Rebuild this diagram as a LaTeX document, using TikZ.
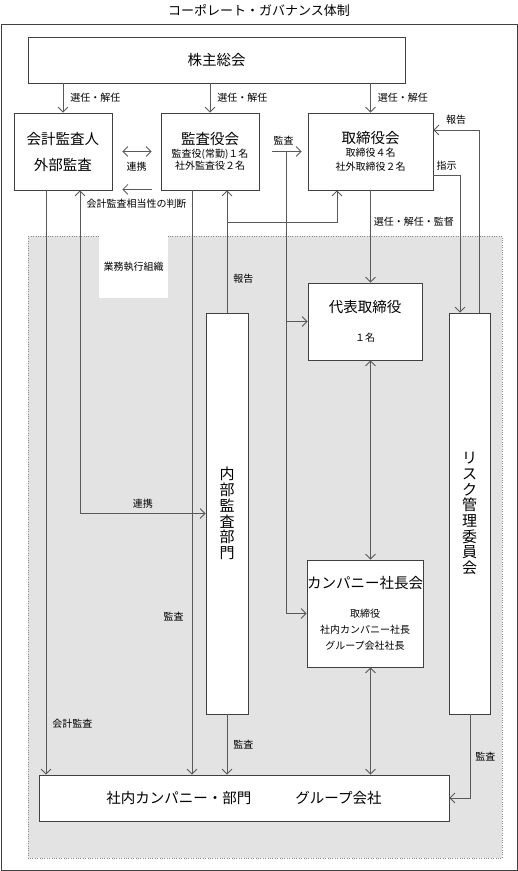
\documentclass[tikz,border=0pt]{standalone}
\usepackage{fontspec}
\setmainfont{Noto Sans CJK JP}
\usetikzlibrary{positioning,arrows.meta}

\newcommand{\largetxt}{\fontsize{14.5}{16}\selectfont}
\newcommand{\smalltxt}{\fontsize{10}{12}\selectfont}
\newcommand{\verttxt}{\fontsize{15}{15.7}\selectfont}

\tikzset{
  box/.style={draw=black!75,fill=white,line width=0.8pt,inner sep=0pt,align=center},
  conn/.style={draw=black!65,line width=0.8pt},
  arr/.style={conn,-{Straight Barb[length=5pt,width=10pt]}},
  darr/.style={conn,{Straight Barb[length=5pt,width=10pt]}-{Straight Barb[length=5pt,width=10pt]}},
  lbl/.style={font=\smalltxt,inner sep=0pt},
}

\begin{document}
\begin{tikzpicture}[x=1pt,y=-1pt]
      \useasboundingbox (0,0) rectangle (518,871);

      % frame
      \node[font=\fontsize{13}{15}\selectfont] (title) at (259,10) {コーポレート・ガバナンス体制};
      \draw[black!75,line width=0.8pt] (1,24) rectangle (517,870);
      \draw[black!45,dotted,fill=black!11] (28,236) rectangle (502,858);
      \node[fill=white,minimum width=69pt,minimum height=62pt,inner sep=0pt,anchor=north west,font=\smalltxt] (exec) at (99,236) {業務執行組織};

      % boxes
      \node[box,font=\largetxt,minimum width=377pt,minimum height=46pt] (share) at (216.5,60) {株主総会};
      \node[box,font=\largetxt,minimum width=98pt,minimum height=77pt] (auditor) at (63,151.5) {会計監査人\\[10pt]外部監査};
      \node[box,font=\smalltxt,minimum width=98pt,minimum height=77pt] (kansa) at (210,151.5) {{\largetxt 監査役会}\\[1pt]監査役(常勤)１名\\社外監査役２名};
      \node[box,font=\smalltxt,minimum width=125pt,minimum height=77pt] (board) at (370.5,151.5) {{\largetxt 取締役会}\\[1pt]取締役４名\\[2pt]社外取締役２名};
      \node[box,font=\smalltxt,minimum width=114pt,minimum height=77pt] (ceo) at (365,321.5) {{\largetxt 代表取締役}\\[17pt]１名};
      \node[box,font=\fontsize{10}{16}\selectfont,minimum width=114pt,minimum height=107pt] (presid) at (365,613.5) {{\largetxt カンパニー社長会}\\[13pt]取締役\\社内カンパニー社長\\グループ会社社長};
      \node[box,font=\verttxt,minimum width=42pt,minimum height=401pt] (internal) at (227,513.5) {内\\部\\監\\査\\部\\門};
      \node[box,font=\verttxt,minimum width=41pt,minimum height=401pt] (risk) at (469.5,513.5) {リ\\ス\\ク\\管\\理\\委\\員\\会};
      \node[box,font=\largetxt,minimum width=410pt,minimum height=46pt] (units) at (244,798) {社内カンパニー・部門\hspace{44pt}グループ会社};

      \coordinate (rep) at (227,222);
      \coordinate (aud) at (286,151.5);

      \path[every edge/.style={arr}]
      (share.south -| auditor) edge node[lbl,right=7pt]{選任・解任} (auditor.north)
      (share.south -| kansa) edge node[lbl,right=7pt]{選任・解任} (kansa.north)
      (share.south -| board) edge node[lbl,right=7pt]{選任・解任} (board.north)
      ([yshift=1pt]kansa.south west) edge[shorten <=9pt,shorten >=10pt] node[lbl,below=9pt]{会計監査相当性の判断} ([yshift=1pt]auditor.south east)
      ([xshift=-17pt]auditor.south) edge node[lbl,right=6pt,pos=0.913]{会計監査} ([xshift=-17pt]auditor.south |- units.north)
      ([xshift=-18pt]kansa.south) edge node[lbl,left=8pt,pos=0.73]{監査} ([xshift=-18pt]kansa.south |- units.north)
      (internal.north) edge node[lbl,right=6pt,pos=0.28]{報告} ([xshift=17pt]kansa.south)
      (kansa.east) edge[shorten <=13pt,shorten >=6pt] node[lbl,above=6pt]{監査} (board.west)
      (aud |- ceo.west) edge (ceo.west)
      (board.south) edge node[lbl,right=3pt,pos=0.34]{選任・解任・監督} (board.south |- ceo.north)
      (internal.south) edge node[lbl,right=6pt]{監査} (internal.south |- units.north);

      \path[every edge/.style={darr}]
      (auditor.east) edge[shorten <=10pt,shorten >=9pt] node[lbl,below=10pt]{連携} (kansa.west)
      (ceo.south -| board) edge (presid.north -| board)
      (presid.south -| board) edge (units.north -| board);

      \draw[darr] ([xshift=17pt]auditor.south) |- node[lbl,above=5pt,pos=0.75]{連携} (internal.west);
      \draw[arr] (rep) -| ([xshift=-33.5pt]board.south);
      \draw[arr] (aud) |- (presid.west);
      \draw[arr] ([yshift=-23.5pt]board.east) -| node[lbl,above=4pt,pos=0.25]{指示} ([xshift=-9.5pt]risk.north);
      \draw[arr] ([xshift=9.5pt]risk.north) |- node[lbl,above=5pt,pos=0.75]{報告} ([yshift=21.5pt]board.east);
      \draw[arr] ([xshift=0.5pt]risk.south) |- node[lbl,right=5pt,pos=0.25]{監査} (units.east);
    \end{tikzpicture}
\end{document}
